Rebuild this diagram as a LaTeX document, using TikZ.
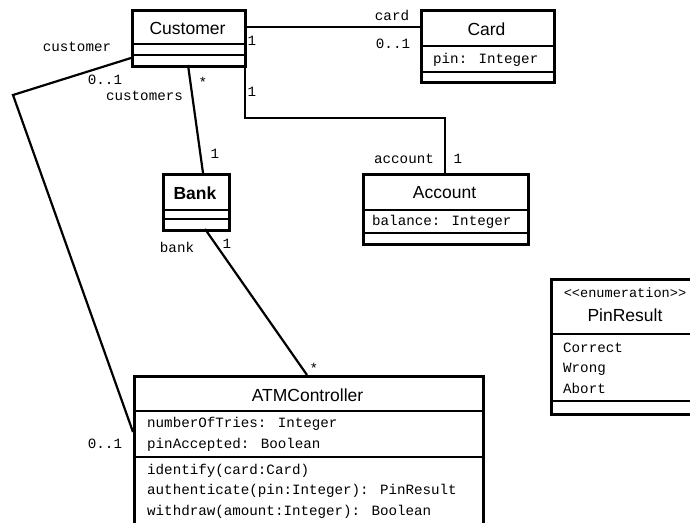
\documentclass[tikz,border=0pt]{standalone}
\usepackage{fontspec}
\setmainfont{Liberation Sans}
\newfontfamily\monof{Liberation Mono}
\begin{document}
\begin{tikzpicture}[x=1pt,y=-1pt,
  cls/.style={draw, line width=2.6pt, inner sep=0pt, anchor=north west},
  sep/.style={line width=2.6pt},
  conn/.style={line width=2.2pt},
  cname/.style={font=\fontsize{17.5}{20}\selectfont, inner sep=0pt},
  mono/.style={font=\monof\fontsize{14.2}{16}\selectfont, inner sep=0pt},
  monow/.style={mono, anchor=west},
  ]
\useasboundingbox (0,0) rectangle (690,522);
\clip (0,0) rectangle (690,522);

% Customer
\node[cls, minimum width=113pt, minimum height=56pt] (customer) at (131,9) {};
\draw[sep] (131,44) -- (244,44) (131,55) -- (244,55);
\node[cname] (customerN) at (187.5,28.5) {Customer};

% Card
\node[cls, minimum width=133pt, minimum height=72pt] (card) at (420,9) {};
\draw[sep] (420,46) -- (553,46) (420,72) -- (553,72);
\node[cname] (cardN) at (486.5,29) {Card};
\node[monow] (cardA) at (433,59.5) {pin: Integer};

% Account
\node[cls, minimum width=165pt, minimum height=70pt] (account) at (362,173) {};
\draw[sep] (362,210) -- (527,210) (362,233) -- (527,233);
\node[cname] (accountN) at (444.5,192.5) {Account};
\node[monow] (accountA) at (372,222) {balance: Integer};

% Bank
\node[cls, minimum width=66pt, minimum height=56pt] (bank) at (162,173) {};
\draw[sep] (162,210) -- (228,210) (162,219) -- (228,219);
\node[cname, font=\bfseries\fontsize{17.5}{20}\selectfont] (bankN) at (195,193) {Bank};

% ATMController
\node[cls, minimum width=349pt, minimum height=170pt] (atm) at (133,375) {};
\draw[sep] (133,411) -- (482,411) (133,457) -- (482,457);
\node[cname] (atmN) at (307.5,395.5) {ATMController};
\node[monow] (atmA1) at (147,424) {numberOfTries: Integer};
\node[monow] (atmA2) at (147,444.5) {pinAccepted: Boolean};
\node[monow] (atmO1) at (147,470.5) {identify(card:Card)};
\node[monow] (atmO2) at (147,490.5) {authenticate(pin:Integer): PinResult};
\node[monow] (atmO3) at (147,511.5) {withdraw(amount:Integer): Boolean};

% PinResult
\node[cls, minimum width=150pt, minimum height=135pt] (pin) at (550,278) {};
\draw[sep] (550,334) -- (700,334) (550,401) -- (700,401);
\node[mono, font=\monof\fontsize{13.6}{16}\selectfont] (pinS) at (625,293) {<{}<enumeration>{}>};
\node[cname] (pinN) at (625,315) {PinResult};
\node[monow] (pinL1) at (563,348) {Correct};
\node[monow] (pinL2) at (563,369) {Wrong};
\node[monow] (pinL3) at (563,388) {Abort};

% connector points
\coordinate (cuCard) at (244,27);
\coordinate (caCu) at (420,27);
\coordinate (cuAcc) at (245,65);
\coordinate (b1) at (245,118);
\coordinate (b2) at (445,118);
\coordinate (acCu) at (445,173);
\coordinate (cuBank) at (188,65);
\coordinate (bkCu) at (203,173);
\coordinate (bkAtm) at (205,229);
\coordinate (atBk) at (307,375);
\coordinate (cuAtm) at (131,58);
\coordinate (b3) at (13,95);
\coordinate (atCu) at (133,432);

\draw[conn] (cuCard) -- (caCu);
\draw[conn] (cuAcc) -- (b1) -- (b2) -- (acCu);
\draw[conn] (cuBank) -- (bkCu);
\draw[conn] (bkAtm) -- (atBk);
\draw[conn] (cuAtm) -- (b3) -- (atCu);

% labels
\node[mono] (l1) at (392,15) {card};
\node[mono] (l2) at (393,44) {0..1};
\node[mono] (l3) at (252,41) {1};
\node[mono] (l4) at (252,92) {1};
\node[mono] (l5) at (404,159) {account};
\node[mono] (l6) at (458,159) {1};
\node[mono] (l7) at (203,82) {*};
\node[mono] (l8) at (144.5,96) {customers};
\node[mono] (l9) at (77,47) {customer};
\node[mono] (l10) at (105,80) {0..1};
\node[mono] (l11) at (215,154) {1};
\node[mono] (l12) at (177,247) {bank};
\node[mono] (l13) at (227,244) {1};
\node[mono] (l14) at (314,368) {*};
\node[mono] (l15) at (105,444) {0..1};
\end{tikzpicture}
\end{document}
